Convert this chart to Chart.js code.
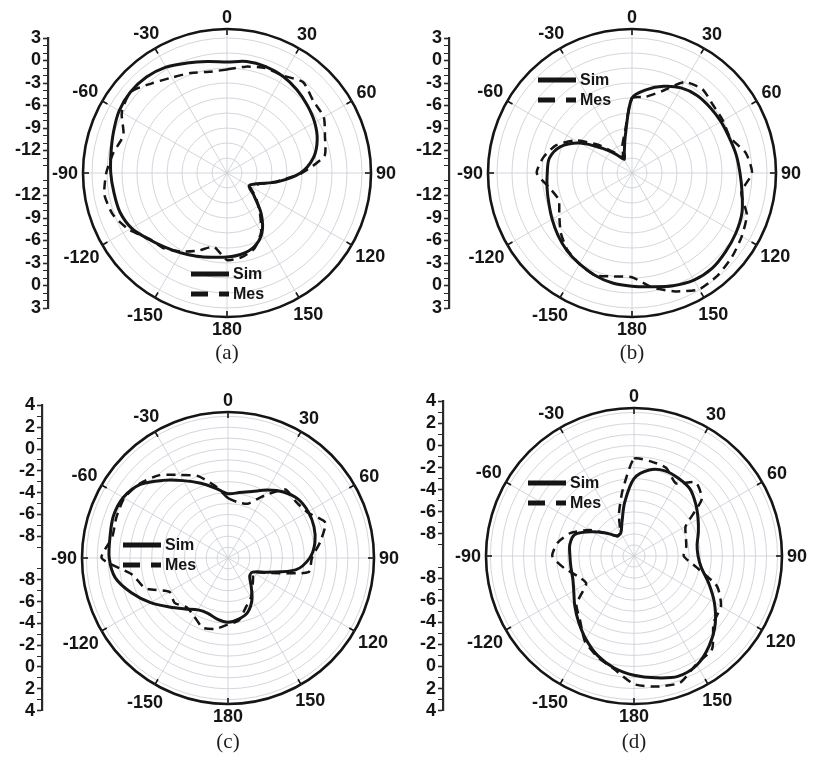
<!DOCTYPE html>
<html>
<head>
<meta charset="utf-8">
<script src="https://cdn.jsdelivr.net/npm/chart.js@4.4.1/dist/chart.umd.min.js"></script>
<style>
  html, body { margin: 0; padding: 0; background: #fff; }
  #page { position: relative; width: 813px; height: 763px; overflow: hidden; background: #fff; }
  canvas { position: absolute; }
  .cap { position: absolute; width: 60px; text-align: center; line-height: 24px;
         font: 21px "Liberation Serif", "Times New Roman", serif; color: #1e1e1e; }
</style>
</head>
<body>
<div id="page"></div>
<script>
// angle of each sample, clockwise from the top (deg)
const angles = [0, 10, 20, 30, 40, 50, 60, 70, 80, 90, 100, 110, 120, 130, 140, 150, 160, 170, 180,
  -170, -160, -150, -140, -130, -120, -110, -100, -90, -80, -70, -60, -50, -40, -30, -20, -10];

// normalized gain (dB) per panel
const simA = [-0.2, 0.1, 0.1, -0.1, -0.5, -1.0, -1.5, -2.2, -3.3, -5.2, -8.2, -10.8, -11.6, -10.3, -7.9, -5.7, -4.5, -4.0, -3.8,
  -3.6, -3.2, -2.7, -2.1, -1.3, -0.3, 0.2, 0.3, 0.5, 0.7, 1.1, 1.6, 1.8, 1.7, 1.3, 0.6, 0.1];
const mesA = [-1.2, -0.6, -0.1, 0.0, 0.8, 0.0, -0.1, -1.1, -1.8, -5.0, -8.4, -10.6, -11.4, -10.0, -8.2, -5.9, -4.3, -3.6, -3.4,
  -5.0, -4.0, -2.9, -1.9, -1.4, 0.1, 1.2, 1.6, 1.1, 0.4, -0.3, 1.2, 1.8, 0.6, -0.3, -0.8, -1.3];

const simB = [-5.0, -3.7, -2.7, -1.9, -1.5, -1.4, -1.3, -1.2, -0.9, -0.6, -0.1, 0.6, 1.0, 1.3, 1.6, 1.5, 1.0, 0.4, 0.1,
  -0.1, -0.5, -1.0, -1.5, -2.1, -2.7, -3.2, -3.5, -3.7, -3.8, -4.8, -7.0, -9.9, -11.8, -12.9, -12.0, -9.9];
const mesB = [-5.0, -4.7, -3.4, -1.0, -0.4, -0.9, -1.0, -1.1, 0.4, 1.0, -0.2, 1.3, 1.9, 2.4, 2.8, 2.9, 1.8, 0.5, -1.1,
  -1.0, -0.5, -1.0, -1.6, -2.6, -3.8, -4.6, -3.8, -2.3, -3.0, -4.2, -6.3, -9.2, -11.5, -12.6, -11.2, -9.5];

const simC = [-4.1, -3.9, -3.5, -2.8, -2.1, -1.6, -1.5, -1.6, -1.9, -2.5, -3.7, -6.2, -7.4, -7.4, -6.7, -5.6, -4.7, -4.3, -4.1,
  -4.3, -4.6, -4.5, -3.9, -3.0, -1.8, -0.6, 0.5, 0.9, 1.0, 1.2, 1.1, 0.5, -0.7, -1.8, -2.7, -3.5];
const mesC = [-4.5, -4.8, -4.7, -3.4, -1.8, -1.9, -1.6, -0.5, -1.4, -2.3, -2.5, -6.0, -7.3, -7.0, -6.5, -5.8, -5.2, -4.2, -3.9,
  -3.4, -3.2, -3.8, -4.1, -3.6, -3.8, -1.9, -1.1, 1.6, 0.8, 0.9, 1.0, 0.6, -0.1, -1.2, -2.0, -3.3];

const simD = [-3.0, -2.1, -1.8, -1.9, -2.1, -2.7, -3.3, -3.8, -4.2, -4.2, -3.8, -2.8, -1.6, -0.4, 0.6, 1.4, 1.6, 1.2, 0.8,
  0.3, -0.4, -1.3, -2.2, -3.0, -3.7, -4.1, -4.2, -4.2, -4.1, -4.3, -5.6, -6.8, -7.6, -7.6, -6.8, -5.1];
const mesD = [-1.2, -1.3, -1.5, -2.4, -1.3, -2.0, -4.6, -5.0, -5.2, -5.5, -4.3, -2.0, -0.9, -0.6, 1.0, 1.3, 2.2, 2.0, 1.6,
  0.4, -0.3, -1.1, -2.4, -3.2, -5.0, -4.6, -3.6, -2.6, -3.0, -3.9, -5.3, -6.8, -7.7, -7.5, -6.0, -4.0];

// left axis tick labels
const axisTicksAB = [3, 0, -3, -6, -9, -12];
const axisTicksCD = [4, 2, 0, -2, -4, -6, -8];

const FONT = '"Liberation Sans", Arial, Helvetica, sans-serif';
const GRID = '#c8cbd3';
const INK = '#151515';

const panels = [
  { name: '(a)', sim: simA, mes: mesA, min: -15, max: 4.2, step: 2, axisTicks: axisTicksAB, axisMinor: 1,
    cx: 227, cy: 173, r: 144, axisX: 48, leg: { x: -36, y: 101 }, capY: 352 },
  { name: '(b)', sim: simB, mes: mesB, min: -15, max: 4.2, step: 2, axisTicks: axisTicksAB, axisMinor: 1,
    cx: 632, cy: 173, r: 144, axisX: 449, leg: { x: -94, y: -93 }, capY: 352 },
  { name: '(c)', sim: simC, mes: mesC, min: -10, max: 3.4, step: 1, axisTicks: axisTicksCD, axisMinor: 1,
    cx: 228, cy: 558, r: 146, axisX: 42, leg: { x: -105, y: -13 }, capY: 741 },
  { name: '(d)', sim: simD, mes: mesD, min: -10, max: 3.4, step: 1, axisTicks: axisTicksCD, axisMinor: 1,
    cx: 634, cy: 556, r: 148, axisX: 443, leg: { x: -106, y: -73 }, capY: 741 }
];

const page = document.getElementById('page');

function addCanvas(left, top, w, h) {
  const c = document.createElement('canvas');
  c.width = w; c.height = h;
  c.style.left = left + 'px'; c.style.top = top + 'px';
  c.style.width = w + 'px'; c.style.height = h + 'px';
  page.appendChild(c);
  return c;
}

// rim ticks, angle labels and the in-plot legend
const polarDecor = {
  id: 'polarDecor',
  afterDraw(chart, args, opts) {
    const s = chart.scales.r;
    const ctx = chart.ctx;
    const R = s.drawingArea;
    ctx.save();
    ctx.strokeStyle = INK;
    ctx.lineWidth = 1.6;
    angles.forEach((a, i) => {
      if (a % 30 !== 0) return;
      const p1 = s.getPointPosition(i, R - 6);
      const p2 = s.getPointPosition(i, R);
      ctx.beginPath(); ctx.moveTo(p1.x, p1.y); ctx.lineTo(p2.x, p2.y); ctx.stroke();
    });

    ctx.font = 'bold 18px ' + FONT;
    ctx.fillStyle = INK;
    ctx.textAlign = 'center';
    ctx.textBaseline = 'middle';
    angles.forEach((a, i) => {
      if (a % 30 !== 0) return;
      const txt = String(a);
      const w = ctx.measureText(txt).width;
      const rad = a * Math.PI / 180;
      const d = 5 + Math.abs(Math.sin(rad)) * w / 2 + Math.abs(Math.cos(rad)) * 7;
      const p = s.getPointPosition(i, R + d);
      ctx.fillText(txt, p.x, p.y + 1);
    });

    // legend
    const lx = s.xCenter + opts.leg.x;
    ctx.font = 'bold 16px ' + FONT;
    ctx.textAlign = 'left';
    chart.data.datasets.forEach((ds, k) => {
      const ly = s.yCenter + opts.leg.y + k * 20;
      ctx.beginPath();
      ctx.lineWidth = 5;
      ctx.lineCap = 'butt';
      ctx.setLineDash(k === 0 ? [] : [17, 11]);
      ctx.moveTo(lx, ly); ctx.lineTo(lx + 38, ly);
      ctx.stroke();
      ctx.setLineDash([]);
      ctx.fillText(ds.label, lx + 42, ly + 1);
    });
    ctx.restore();
  }
};

panels.forEach(p => {
  // ---- polar chart ----
  const m = 46;
  const size = 2 * (p.r + m);
  const cv = addCanvas(p.cx - size / 2, p.cy - size / 2, size, size);
  const rings = [];
  for (let v = p.min; v < p.max - 0.3; v += p.step) rings.push(v);
  rings.push(p.max);
  const last = rings.length - 1;

  new Chart(cv, {
    type: 'radar',
    data: {
      labels: angles.map(String),
      datasets: [
        { label: 'Sim', data: p.sim, borderColor: INK, borderWidth: 3, tension: 0.3,
          pointRadius: 0, fill: false },
        { label: 'Mes', data: p.mes, borderColor: INK, borderWidth: 2.5, borderDash: [9, 6], tension: 0.2,
          pointRadius: 0, fill: false }
      ]
    },
    options: {
      responsive: false,
      animation: false,
      events: [],
      layout: { padding: m },
      plugins: { legend: { display: false }, tooltip: { enabled: false }, polarDecor: { leg: p.leg } },
      scales: {
        r: {
          min: p.min,
          max: p.max,
          afterBuildTicks: s => { s.ticks = rings.map(v => ({ value: v })); },
          ticks: { display: false },
          pointLabels: { display: false },
          grid: {
            circular: true,
            color: c => c.index === last ? INK : GRID,
            lineWidth: c => c.index === last ? 2.6 : 0.8
          },
          angleLines: {
            color: GRID,
            lineWidth: c => c.index % 3 === 0 ? 0.8 : 0
          }
        }
      }
    },
    plugins: [polarDecor]
  });

  // ---- left radial axis ----
  const pxPerDb = p.r / (p.max - p.min);
  const top = p.axisTicks[0];
  const span = top - p.min;
  const half = span * pxPerDb;
  const H = 190;
  const axW = 46;
  const ac = addCanvas(p.axisX - axW, p.cy - H, axW + 10, 2 * H);

  const majorVals = [];
  p.axisTicks.forEach(t => { majorVals.push(t - p.min, -(t - p.min)); });
  const tickVals = [];
  for (let d = p.min + p.axisMinor; d <= top + 1e-6; d += p.axisMinor) {
    tickVals.push(d - p.min, -(d - p.min));
  }
  tickVals.sort((a, b) => a - b);
  const isMajor = v => majorVals.some(mv => Math.abs(mv - v) < 1e-6);

  new Chart(ac, {
    type: 'line',
    data: { labels: [], datasets: [] },
    options: {
      responsive: false,
      animation: false,
      events: [],
      layout: { padding: { top: H - half, bottom: H - half, left: 0, right: 10 } },
      plugins: { legend: { display: false }, tooltip: { enabled: false } },
      scales: {
        x: { display: false },
        y: {
          type: 'linear',
          min: -span,
          max: span,
          afterBuildTicks: s => { s.ticks = tickVals.map(v => ({ value: v })); },
          afterFit: s => { s.width = axW; },
          border: { display: true, color: '#2a2a2a', width: 2.2 },
          grid: {
            drawOnChartArea: false,
            drawTicks: true,
            tickLength: 5,
            tickColor: '#2a2a2a',
            tickWidth: c => (c.tick && isMajor(c.tick.value)) ? 1.6 : 1
          },
          ticks: {
            autoSkip: false,
            padding: 2,
            color: INK,
            font: { family: FONT, size: 18, weight: 'bold' },
            callback: v => isMajor(v) ? String(Math.round(Math.abs(v) + p.min)) : ''
          }
        }
      }
    }
  });

  // ---- caption ----
  const cap = document.createElement('div');
  cap.className = 'cap';
  cap.textContent = p.name;
  cap.style.left = (p.cx - 30) + 'px';
  cap.style.top = (p.capY - 12) + 'px';
  page.appendChild(cap);
});
</script>
</body>
</html>
